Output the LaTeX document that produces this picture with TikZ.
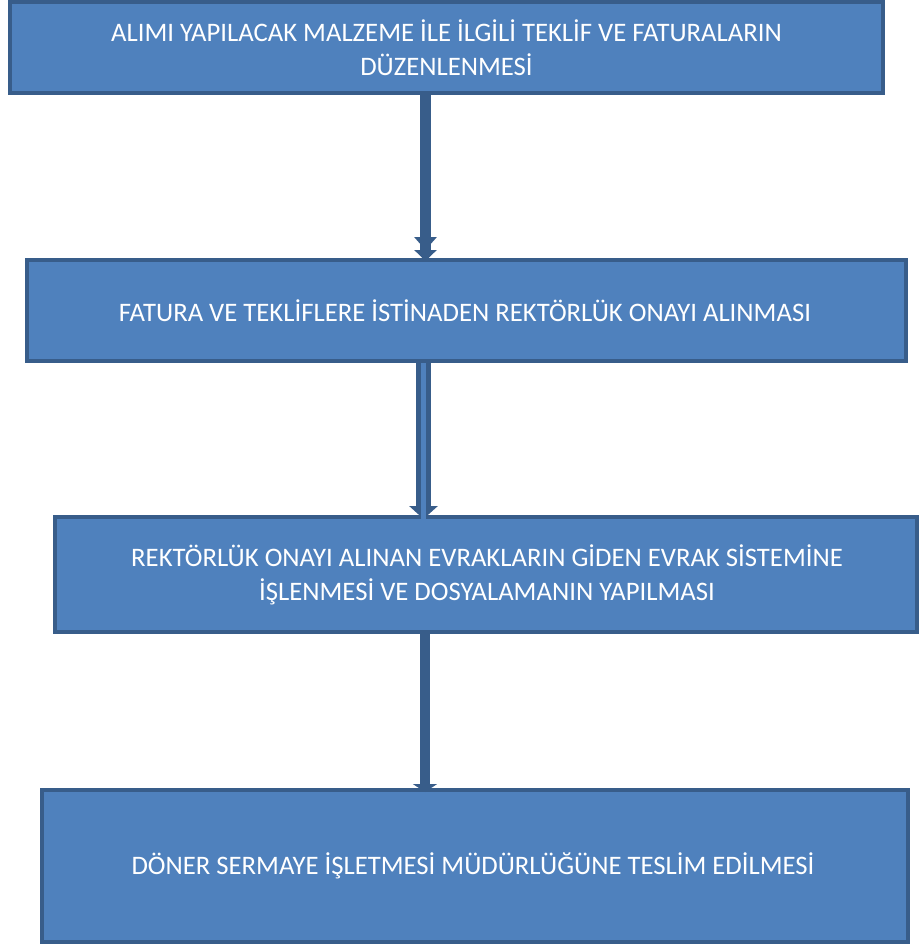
\documentclass[tikz,border=0pt]{standalone}
\usepackage{fontspec}
\setmainfont{Carlito}
\usetikzlibrary{arrows.meta}
\definecolor{boxfill}{HTML}{4F81BD}
\definecolor{boxline}{HTML}{385D8A}
\begin{document}
\begin{tikzpicture}[x=1pt,y=-1pt,
  stepbox/.style={draw=boxline,fill=boxfill,line width=3.5pt},
  steptext/.style={text=white,font=\fontsize{26.7}{34}\selectfont,align=center,inner sep=0pt},
  conn/.style={draw=boxline,line width=10.5pt}]
\useasboundingbox (0,0) rectangle (918,947);
\path[stepbox] (10,2) rectangle (883,93);
\node[steptext] (b1) at (446.5,48)
  {ALIMI YAPILACAK MALZEME İLE İLGİLİ TEKLİF VE FATURALARIN\\DÜZENLENMESİ};
\coordinate (b1s) at (425.5,93);
\path[stepbox] (27,260) rectangle (906,361);
\node[steptext] (b2) at (465,311)
  {FATURA VE TEKLİFLERE İSTİNADEN REKTÖRLÜK ONAYI ALINMASI};
\coordinate (b2n) at (425.5,261);
\coordinate (b2s) at (423.5,361);
\path[stepbox] (55,517) rectangle (917,632);
\node[steptext] (b3) at (487,575)
  {REKTÖRLÜK ONAYI ALINAN EVRAKLARIN GİDEN EVRAK SİSTEMİNE\\İŞLENMESİ VE DOSYALAMANIN YAPILMASI};
\coordinate (b3n) at (423.5,519);
\coordinate (b3s) at (425,632);
\path[stepbox] (42,790) rectangle (908,942);
\node[steptext] (b4) at (473,866)
  {DÖNER SERMAYE İŞLETMESİ MÜDÜRLÜĞÜNE TESLİM EDİLMESİ};
\coordinate (b4n) at (425,792);
% arrow 1: double head
\draw[conn,-{Triangle[width=22pt,length=13pt]Triangle[width=22pt,length=11pt]}] (b1s) -- (b2n);
% arrow 2: outlined shaft
\draw[draw=boxline,line width=15pt,-{Triangle[width=28pt,length=13pt]}] (b2s) -- (b3n);
\draw[draw=boxfill,line width=5pt] (b2s) ++(0,2) -- ([yshift=-8pt]b3n);
% arrow 3
\draw[conn,-{Triangle[width=24pt,length=8pt]}] (b3s) -- (b4n);
\end{tikzpicture}
\end{document}
